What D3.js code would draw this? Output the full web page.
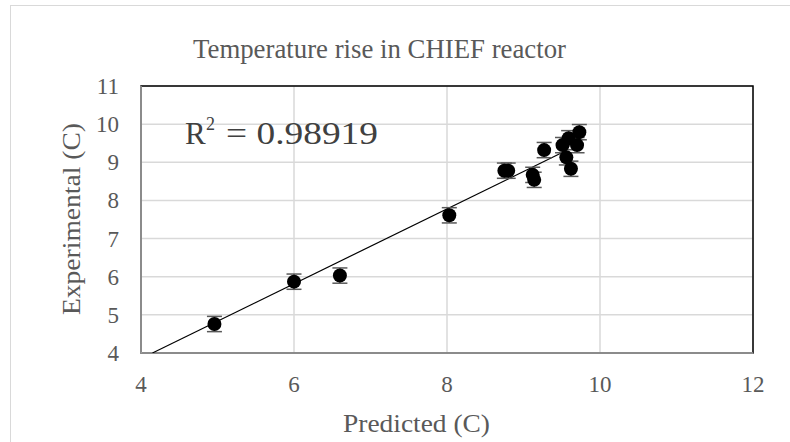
<!DOCTYPE html>
<html>
<head>
<meta charset="utf-8">
<script src="https://cdn.jsdelivr.net/npm/d3@7.9.0/dist/d3.min.js"></script>
<style>
  body { margin: 0; background: #fff; }
  svg { display: block; font-family: 'Liberation Serif', 'DejaVu Serif', serif; }
</style>
</head>
<body>
<svg id="chart" width="790" height="442"></svg>
<script>
// values
const predicted = [4.96, 6.00, 6.60, 8.03, 8.75, 8.80, 9.12, 9.14, 9.27, 9.51, 9.56, 9.62, 9.59, 9.70, 9.73];
const experimental = [4.76, 5.87, 6.03, 7.61, 8.78, 8.78, 8.67, 8.54, 9.32, 9.45, 9.13, 8.83, 9.63, 9.45, 9.79];
const errors = [0.2, 0.2, 0.2, 0.2, 0.2, 0.2, 0.2, 0.2, 0.2, 0.2, 0.2, 0.2, 0.2, 0.2, 0.2];
const xTicks = [4, 6, 8, 10, 12];
const yTicks = [4, 5, 6, 7, 8, 9, 10, 11];
const trend = { slope: 0.981, intercept: -0.07, from: 4.15, to: 9.5 };
const r2Label = '0.98919';

const svg = d3.select('#chart');
const plotL = 141, plotR = 753, plotT = 86, plotB = 353;

const x = d3.scaleLinear().domain([4, 12]).range([plotL, plotR]);
const y = d3.scaleLinear().domain([4, 11]).range([plotB, plotT]);

// outer chart border
svg.append('rect')
  .attr('x', 10.5).attr('y', 5.5)
  .attr('width', 790).attr('height', 450)
  .attr('fill', 'none').attr('stroke', '#d9d9d9');

// gridlines
svg.append('g').selectAll('line').data(xTicks).join('line')
  .attr('x1', d => x(d)).attr('x2', d => x(d))
  .attr('y1', plotT).attr('y2', plotB)
  .attr('stroke', '#d9d9d9').attr('stroke-width', 1.5);
svg.append('g').selectAll('line').data(yTicks).join('line')
  .attr('x1', plotL).attr('x2', plotR)
  .attr('y1', d => y(d)).attr('y2', d => y(d))
  .attr('stroke', '#d9d9d9').attr('stroke-width', 1.5);

// plot area border
svg.append('rect')
  .attr('x', plotL).attr('y', plotT)
  .attr('width', plotR - plotL).attr('height', plotB - plotT)
  .attr('fill', 'none').attr('stroke', '#000').attr('stroke-width', 1.5);
svg.append('path')
  .attr('d', `M${plotL},${plotT}V${plotB}H${plotR}`)
  .attr('fill', 'none').attr('stroke', '#a6a6a6').attr('stroke-width', 1.5);

// tick labels
svg.append('g').selectAll('text').data(xTicks).join('text')
  .attr('x', d => x(d)).attr('y', 392)
  .attr('text-anchor', 'middle')
  .attr('font-size', 23).attr('fill', '#595959')
  .text(d => d);
svg.append('g').selectAll('text').data(yTicks).join('text')
  .attr('x', 119).attr('y', d => y(d) + 8)
  .attr('text-anchor', 'end')
  .attr('font-size', 23).attr('fill', '#595959')
  .text(d => d);

// trend line
const clip = svg.append('clipPath').attr('id', 'plotclip');
clip.append('rect').attr('x', plotL).attr('y', plotT).attr('width', plotR - plotL).attr('height', plotB - plotT);
svg.append('line')
  .attr('clip-path', 'url(#plotclip)')
  .attr('x1', x(trend.from)).attr('y1', y(trend.slope * trend.from + trend.intercept))
  .attr('x2', x(trend.to)).attr('y2', y(trend.slope * trend.to + trend.intercept))
  .attr('stroke', '#000').attr('stroke-width', 1.2);

const pts = predicted.map((p, i) => ({ p, e: experimental[i], err: errors[i] }));

// error bars
const eb = svg.append('g').attr('stroke', '#595959').attr('stroke-width', 1.5);
pts.forEach(d => {
  const cx = x(d.p), y1 = y(d.e + d.err), y2 = y(d.e - d.err);
  eb.append('line').attr('x1', cx).attr('x2', cx).attr('y1', y1).attr('y2', y2);
  eb.append('line').attr('x1', cx - 7.5).attr('x2', cx + 7.5).attr('y1', y1).attr('y2', y1);
  eb.append('line').attr('x1', cx - 7.5).attr('x2', cx + 7.5).attr('y1', y2).attr('y2', y2);
});

// markers
svg.append('g').selectAll('circle').data(pts).join('circle')
  .attr('cx', d => x(d.p)).attr('cy', d => y(d.e))
  .attr('r', 7).attr('fill', '#000');

// titles
svg.append('text')
  .attr('x', 193).attr('y', 58)
  .attr('font-size', 28).attr('fill', '#595959')
  .attr('textLength', 373).attr('lengthAdjust', 'spacingAndGlyphs')
  .text('Temperature rise in CHIEF reactor');

svg.append('text')
  .attr('x', 343).attr('y', 432)
  .attr('font-size', 25).attr('fill', '#595959')
  .attr('textLength', 147).attr('lengthAdjust', 'spacingAndGlyphs')
  .text('Predicted (C)');

svg.append('text')
  .attr('transform', 'translate(80,315) rotate(-90)')
  .attr('font-size', 25).attr('fill', '#595959')
  .attr('textLength', 192).attr('lengthAdjust', 'spacingAndGlyphs')
  .text('Experimental (C)');

// R squared label
svg.append('text')
  .attr('x', 185).attr('y', 144)
  .attr('font-size', 31).attr('fill', '#404040')
  .text('R');
svg.append('text')
  .attr('x', 206).attr('y', 130)
  .attr('font-size', 18).attr('fill', '#404040')
  .text('2');
svg.append('text')
  .attr('x', 226).attr('y', 144)
  .attr('font-size', 31).attr('fill', '#404040')
  .attr('textLength', 152).attr('lengthAdjust', 'spacingAndGlyphs')
  .text('= ' + r2Label);
</script>
</body>
</html>
